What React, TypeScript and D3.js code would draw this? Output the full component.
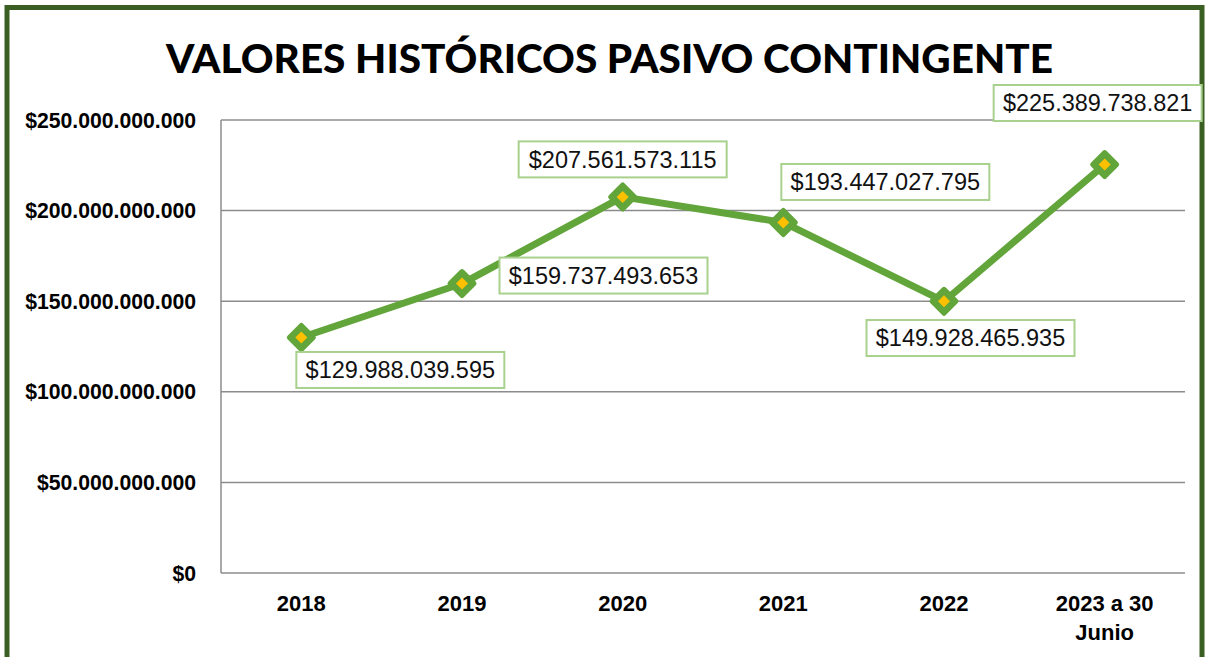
import React from "react";
import * as d3 from "d3";

const categories: string[][] = [["2018"], ["2019"], ["2020"], ["2021"], ["2022"], ["2023 a 30", "Junio"]];
const values: number[] = [129988039595, 159737493653, 207561573115, 193447027795, 149928465935, 225389738821];
const valueLabels: string[] = ["$129.988.039.595", "$159.737.493.653", "$207.561.573.115", "$193.447.027.795", "$149.928.465.935", "$225.389.738.821"];
const yTicks: number[] = [0, 50e9, 100e9, 150e9, 200e9, 250e9];
const yTickLabels: string[] = ["$0", "$50.000.000.000", "$100.000.000.000", "$150.000.000.000", "$200.000.000.000", "$250.000.000.000"];
const title = "VALORES HISTÓRICOS PASIVO CONTINGENTE";

// label box offsets relative to point (layout)
const labelOffsets: [number, number][] = [[99, 32.5], [141.5, -8], [0, -37.5], [102, -40.5], [26.5, 36.7], [-7, -61.6]];

export default function App() {
  const W = 1212, H = 657;
  const left = 221, right = 1185, top = 120, bottom = 573;
  const x = d3.scaleBand<number>().domain(d3.range(categories.length)).range([left, right]);
  const y = d3.scaleLinear().domain([0, 250e9]).range([bottom, top]);
  const cx = (i: number) => (x(i) as number) + x.bandwidth() / 2;
  const line = d3.line<number>().x((_, i) => cx(i)).y((d) => y(d));
  const green = "#62A53B";
  const font = "'Liberation Sans', Arial, sans-serif";
  const boxW = 208, boxH = 36;
  const diamond = (r: number) => `M0,${-r}L${r},0L0,${r}L${-r},0Z`;

  return (
    <div style={{ position: "absolute", left: 0, top: 0 }}>
      <svg width={W} height={H} style={{ display: "block", background: "#fff" }}>
        <rect x={7} y={7.5} width={1195} height={700} fill="#fff" stroke="#3B5E23" strokeWidth={5} />
        <text x={609.5} y={73} textAnchor="middle" fontFamily="Lato, 'Open Sans', sans-serif" fontWeight={900} fontSize={39} fill="#000" textLength={887} lengthAdjust="spacingAndGlyphs">{title}</text>
        {yTicks.map((t, i) => (
          <g key={i}>
            {t > 0 && <line x1={left} x2={right} y1={y(t)} y2={y(t)} stroke="#8C8C8C" strokeWidth={1.5} />}
            <text x={196} y={y(t)} dy="0.36em" textAnchor="end" fontFamily={font} fontWeight={700} fontSize={21.2} fill="#000">{yTickLabels[i]}</text>
          </g>
        ))}
        <line x1={left} x2={right} y1={bottom} y2={bottom} stroke="#8C8C8C" strokeWidth={1.5} />
        <line x1={left} x2={left} y1={top} y2={bottom} stroke="#8C8C8C" strokeWidth={1.5} />
        {categories.map((c, i) => (
          <text key={i} x={cx(i)} y={611} textAnchor="middle" fontFamily={font} fontWeight={700} fontSize={22} fill="#000">
            {c.map((s, j) => (
              <tspan key={j} x={cx(i)} dy={j === 0 ? 0 : 29}>{s}</tspan>
            ))}
          </text>
        ))}
        <path d={line(values) || ""} fill="none" stroke={green} strokeWidth={7} strokeLinejoin="round" />
        {values.map((v, i) => (
          <g key={i} transform={`translate(${cx(i)},${y(v)})`}>
            <path d={diamond(12)} fill={green} stroke={green} strokeWidth={5} strokeLinejoin="round" />
            <path d={diamond(6)} fill="#FFC000" />
          </g>
        ))}
        {values.map((v, i) => {
          const bx = cx(i) + labelOffsets[i][0];
          const by = y(v) + labelOffsets[i][1];
          return (
            <g key={i}>
              <rect x={bx - boxW / 2} y={by - boxH / 2} width={boxW} height={boxH} fill="#fff" stroke="#A9D18E" strokeWidth={2} />
              <text x={bx} y={by} dy="0.36em" textAnchor="middle" fontFamily={font} fontSize={23.5} fill="#111">{valueLabels[i]}</text>
            </g>
          );
        })}
      </svg>
    </div>
  );
}
